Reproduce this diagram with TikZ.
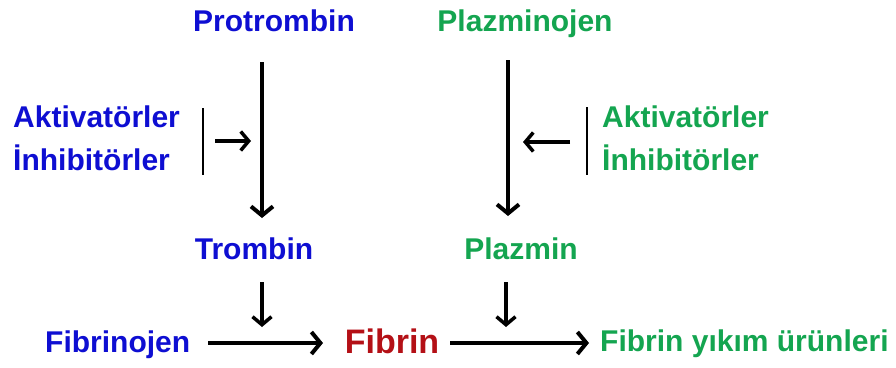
\documentclass[tikz,border=0pt]{standalone}
\usepackage{fontspec}
\setmainfont{Liberation Sans}
\usetikzlibrary{arrows.meta}
\definecolor{kanblue}{RGB}{14,14,210}
\definecolor{kangreen}{RGB}{20,165,80}
\definecolor{kanred}{RGB}{180,16,22}
\tikzset{
  lbl/.style={anchor=base,inner sep=0pt,font=\fontsize{30}{33}\selectfont\bfseries},
  blue/.style={lbl,text=kanblue},
  green/.style={lbl,text=kangreen},
  flow/.style={-{Straight Barb[length=9pt,width=22pt,line width=4pt]},line width=4pt},
  minor/.style={-{Straight Barb[length=8pt,width=19pt,line width=3.5pt]},line width=3.5pt},
  bar/.style={line width=2.4pt}
}
\begin{document}
\begin{tikzpicture}[x=1pt,y=-1pt]
  \useasboundingbox (0,0) rectangle (896,367);
  % labels
  \draw
    (274,31) node[blue] (protr){Protrombin}
    (525,31) node[green] (plazj){Plazminojen}
    (13,127) node[blue,anchor=base west] (aktL){Aktivatörler}
    (13,170) node[blue,anchor=base west] (inhL){İnhibitörler}
    (602,127) node[green,anchor=base west] (aktR){Aktivatörler}
    (602,170) node[green,anchor=base west] (inhR){İnhibitörler}
    (254,259) node[blue] (tromb){Trombin}
    (521,259) node[green] (plazm){Plazmin}
    (45,352) node[blue,anchor=base west] (fgen){Fibrinojen}
    (392,353) node[lbl,text=kanred,font=\fontsize{34}{37}\selectfont\bfseries] (fib){Fibrin}
    (600,351) node[green,anchor=base west] (fdp){Fibrin yıkım ürünleri};
  % helper points
  \coordinate (t1) at (262,62);
  \coordinate (t2) at (262,218);
  \coordinate (p1) at (508,60);
  \coordinate (p2) at (508,216);
  \coordinate (barL1) at (203,108);
  \coordinate (barL2) at (203,175);
  \coordinate (barR1) at (587,107);
  \coordinate (barR2) at (587,175);
  \coordinate (aL1) at (215,141);
  \coordinate (aL2) at (251,141);
  \coordinate (aR1) at (570,142);
  \coordinate (aR2) at (523,142);
  \coordinate (s1) at (262,282);
  \coordinate (s2) at (262,327);
  \coordinate (r1) at (506,282);
  \coordinate (r2) at (506,327);
  \coordinate (f1) at (208,343);
  \coordinate (f2) at (323,343);
  \coordinate (g1) at (450,343);
  \coordinate (g2) at (589,343);
  % arrows
  \begin{scope}
    \draw[flow] (t1) to (t2);
    \draw[flow] (p1) to (p2);
    \draw[bar] (barL1) to (barL2);
    \draw[bar] (barR1) to (barR2);
    \draw[minor] (aL1) to (aL2);
    \draw[minor] (aR1) to (aR2);
    \draw[minor] (s1) to (s2);
    \draw[minor] (r1) to (r2);
    \draw[flow] (f1) to (f2);
    \draw[flow] (g1) to (g2);
  \end{scope}
\end{tikzpicture}
\end{document}
